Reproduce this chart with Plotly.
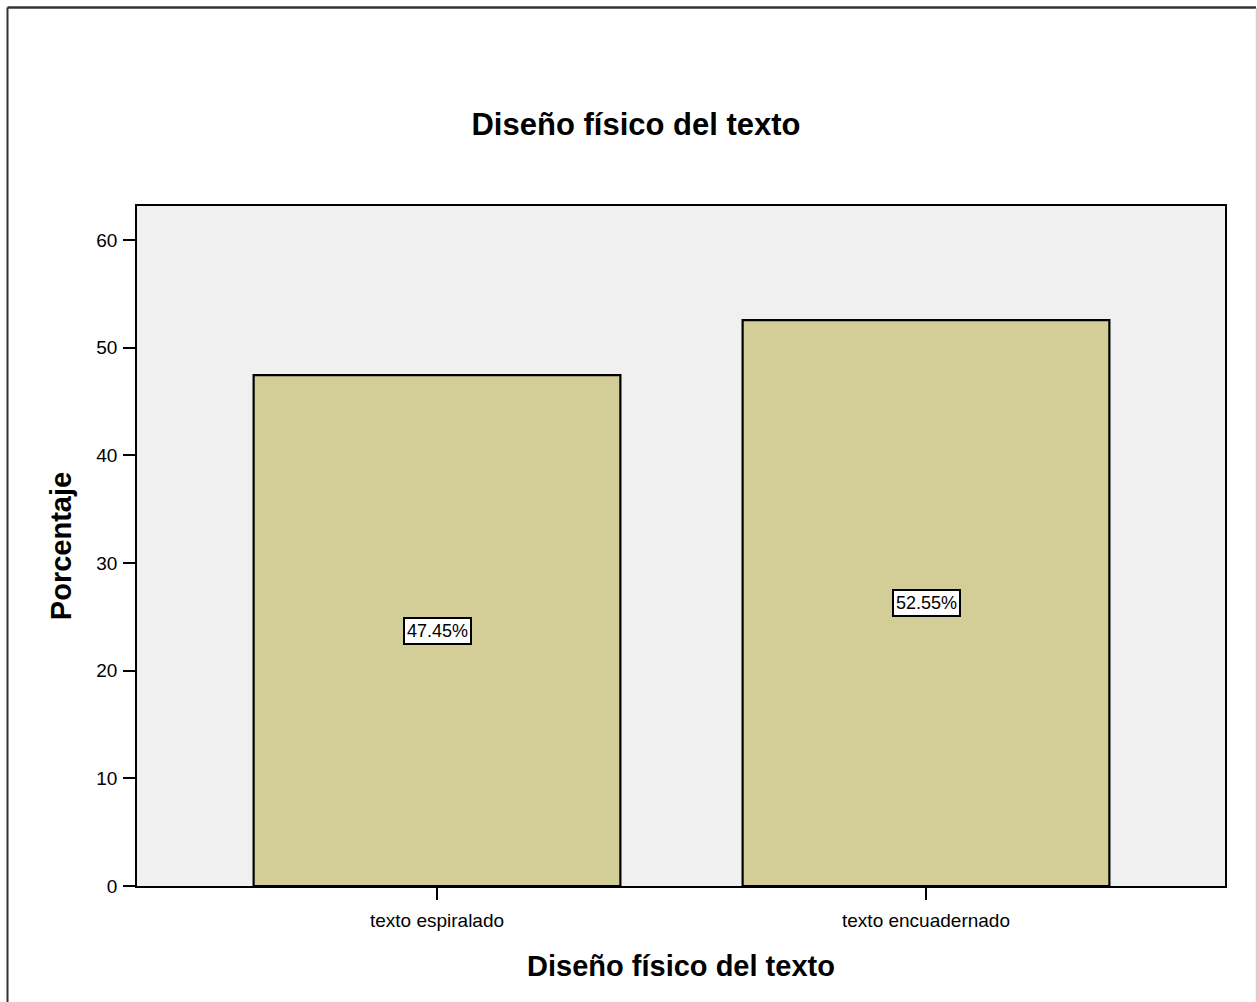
import plotly.graph_objects as go

# Data
categories = ["texto espiralado", "texto encuadernado"]
percentages = [47.45, 52.55]
value_labels = ["47.45%", "52.55%"]
y_ticks = [0, 10, 20, 30, 40, 50, 60]

W, H = 1257, 1002
L, R, T, B = 137, 32, 206, 116
pw, ph = W - L - R, H - T - B


def px_x(p):
    return (p - L) / pw


def px_y(p):
    return (H - B - p) / ph


FONT = "Liberation Sans, Arial, sans-serif"

fig = go.Figure()
fig.add_trace(go.Bar(
    x=[0, 1],
    y=percentages,
    width=0.75,
    marker=dict(color="#D3CE97", line=dict(color="black", width=2.2)),
    hoverinfo="skip",
))

# Value labels in white boxes at the middle of each bar
for i, (val, lab) in enumerate(zip(percentages, value_labels)):
    fig.add_annotation(
        x=i, y=val / 2, text=lab, showarrow=False,
        font=dict(family=FONT, size=18, color="black"),
        bgcolor="white", bordercolor="black", borderwidth=2, borderpad=2,
    )

# Outer frame
fig.add_shape(type="line", xref="paper", yref="paper",
              x0=px_x(7.5), x1=px_x(1256), y0=px_y(7.5), y1=px_y(7.5),
              line=dict(color="#333333", width=2.5))
fig.add_shape(type="line", xref="paper", yref="paper",
              x0=px_x(7.5), x1=px_x(7.5), y0=px_y(7.5), y1=px_y(1010),
              line=dict(color="#333333", width=2))
fig.add_shape(type="line", xref="paper", yref="paper",
              x0=px_x(1256.5), x1=px_x(1256.5), y0=px_y(8), y1=px_y(1010),
              line=dict(color="#d0d0d0", width=1.5))

spacing = 926 - 437
fig.update_layout(
    width=W, height=H,
    margin=dict(l=L, r=R, t=T, b=B),
    paper_bgcolor="white",
    plot_bgcolor="#F0F0F0",
    showlegend=False,
    font=dict(family=FONT, color="black"),
    title=dict(
        text="<b>Diseño físico del texto</b>",
        x=px_x(636), xref="paper", xanchor="center",
        y=1 - 124 / H, yanchor="middle",
        font=dict(family=FONT, size=31, color="black"),
    ),
    xaxis=dict(
        range=[-(437 - L) / spacing, 1 + (W - R - 926) / spacing],
        tickvals=[0, 1], ticktext=categories,
        showgrid=False, zeroline=False,
        showline=True, linecolor="black", linewidth=1.5, mirror=True,
        ticks="outside", ticklen=12, tickwidth=2, tickcolor="black",
        ticklabelstandoff=4,
        tickfont=dict(family=FONT, size=19, color="black"),
        title=dict(text="<b>Diseño físico del texto</b>",
                   font=dict(family=FONT, size=29, color="black"),
                   standoff=26),
    ),
    yaxis=dict(
        range=[0, (H - B - T) / ((886 - 240) / 60)],
        tickvals=y_ticks,
        showgrid=False, zeroline=False,
        showline=True, linecolor="black", linewidth=1.5, mirror=True,
        ticks="outside", ticklen=12, tickwidth=2, tickcolor="black",
        ticklabelstandoff=2,
        tickfont=dict(family=FONT, size=19, color="black"),
        title=dict(text="<b>Porcentaje</b>",
                   font=dict(family=FONT, size=29, color="black"),
                   standoff=16),
    ),
)

fig.write_html("out.html")
